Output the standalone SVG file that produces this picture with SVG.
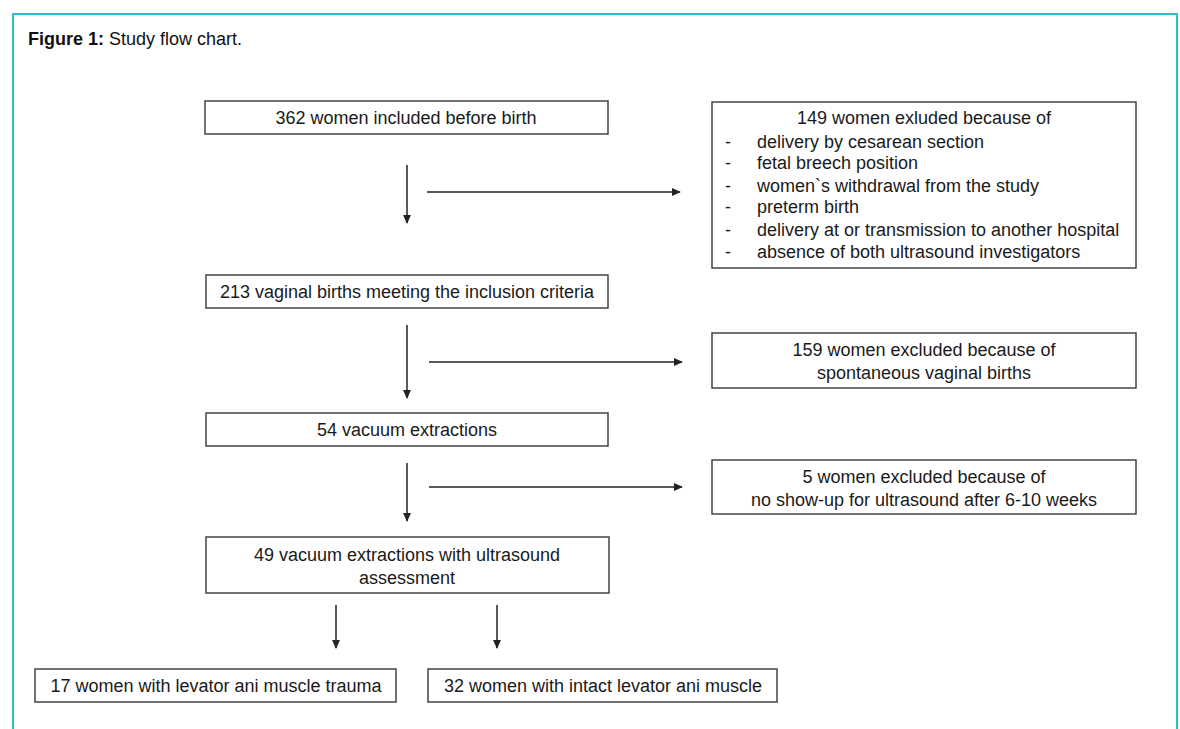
<svg xmlns="http://www.w3.org/2000/svg" width="1180" height="729" viewBox="0 0 1180 729">
<defs>
<style>
.frame{fill:none;stroke:#29c0d4;stroke-width:2}
.box{fill:#fff;stroke:#444;stroke-width:1.5}
.t{font-family:"Liberation Sans",Arial,sans-serif;font-size:18px;fill:#1a1a1a}
.c{text-anchor:middle}
.ln{stroke:#222;stroke-width:1.5;fill:none}
.cap{font-family:"Liberation Sans",Arial,sans-serif;font-size:18px;fill:#111}
</style>
<marker id="ah" viewBox="0 0 10 10" refX="9" refY="5" markerWidth="9" markerHeight="8" orient="auto" markerUnits="userSpaceOnUse" preserveAspectRatio="none">
<path d="M0,0 L10,5 L0,10 z" fill="#222"/>
</marker>
</defs>
<rect width="1180" height="729" fill="#fff"/>
<path class="frame" d="M13,740 L13,14 L1177,14 L1177,740"/>
<text class="cap" x="28" y="45"><tspan font-weight="bold">Figure 1:</tspan> Study flow chart.</text>

<g id="connectors">
<line class="ln" x1="407" y1="165" x2="407" y2="223" marker-end="url(#ah)"/>
<line class="ln" x1="427" y1="192" x2="680" y2="192" marker-end="url(#ah)"/>
<line class="ln" x1="407" y1="325" x2="407" y2="398" marker-end="url(#ah)"/>
<line class="ln" x1="429" y1="362" x2="682" y2="362" marker-end="url(#ah)"/>
<line class="ln" x1="407" y1="463" x2="407" y2="521" marker-end="url(#ah)"/>
<line class="ln" x1="429" y1="487" x2="682" y2="487" marker-end="url(#ah)"/>
<line class="ln" x1="336" y1="605" x2="336" y2="648" marker-end="url(#ah)"/>
<line class="ln" x1="497" y1="605" x2="497" y2="648" marker-end="url(#ah)"/>
</g>

<g id="n1"><rect class="box" x="205" y="101" width="403" height="33"/><text class="t c" x="406" y="124">362 women included before birth</text></g>

<g id="n2"><rect class="box" x="712" y="102" width="424" height="166"/>
<text class="t c" x="924" y="124">149 women exluded because of</text>
<text class="t" x="725" y="148">-</text><text class="t" x="757" y="148">delivery by cesarean section</text>
<text class="t" x="725" y="169">-</text><text class="t" x="757" y="169">fetal breech position</text>
<text class="t" x="725" y="192">-</text><text class="t" x="757" y="192">women`s withdrawal from the study</text>
<text class="t" x="725" y="213">-</text><text class="t" x="757" y="213">preterm birth</text>
<text class="t" x="725" y="236">-</text><text class="t" x="757" y="236">delivery at or transmission to another hospital</text>
<text class="t" x="725" y="258">-</text><text class="t" x="757" y="258">absence of both ultrasound investigators</text>
</g>

<g id="n3"><rect class="box" x="206" y="275" width="402" height="33"/><text class="t c" x="407" y="298">213 vaginal births meeting the inclusion criteria</text></g>

<g id="n4"><rect class="box" x="712" y="333" width="424" height="55"/>
<text class="t c" x="924" y="356">159 women excluded because of</text>
<text class="t c" x="924" y="379">spontaneous vaginal births</text></g>

<g id="n5"><rect class="box" x="206" y="413" width="402" height="33"/><text class="t c" x="407" y="436">54 vacuum extractions</text></g>

<g id="n6"><rect class="box" x="712" y="460" width="424" height="54"/>
<text class="t c" x="924" y="483">5 women excluded because of</text>
<text class="t c" x="924" y="506">no show-up for ultrasound after 6-10 weeks</text></g>

<g id="n7"><rect class="box" x="206" y="537" width="403" height="56"/>
<text class="t c" x="407" y="561">49 vacuum extractions with ultrasound</text>
<text class="t c" x="407" y="584">assessment</text></g>

<g id="n8"><rect class="box" x="35" y="669" width="361" height="33"/><text class="t c" x="216" y="692">17 women with levator ani muscle trauma</text></g>

<g id="n9"><rect class="box" x="428" y="669" width="349" height="33"/><text class="t c" x="603" y="692">32 women with intact levator ani muscle</text></g>
</svg>
